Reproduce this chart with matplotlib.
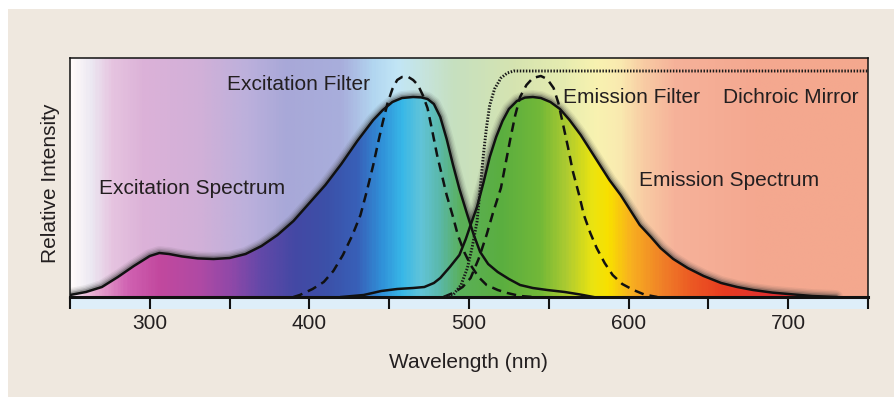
import matplotlib
matplotlib.use("Agg")
import matplotlib.pyplot as plt
import numpy as np
from matplotlib.colors import LinearSegmentedColormap
from matplotlib.patches import Rectangle

plt.rcParams['font.family'] = ['Liberation Sans', 'DejaVu Sans']

# --- data (wavelength nm, relative intensity) ---
ex_spec_nm = [250, 260, 270, 280, 290, 300, 306, 312, 320, 330, 340, 350, 360, 370, 380, 390,
              400, 410, 420, 430, 440, 446, 452, 458, 465, 470, 474, 478, 482, 486, 490, 494,
              499, 503, 507, 512, 518, 525, 532, 540, 549, 560, 570, 578]
ex_spec = [0.01, 0.025, 0.05, 0.10, 0.155, 0.205, 0.22, 0.215, 0.203, 0.193, 0.19, 0.195, 0.215,
           0.255, 0.31, 0.38, 0.47, 0.56, 0.665, 0.78, 0.885, 0.935, 0.975, 0.995, 1.0, 0.998,
           0.99, 0.965, 0.90, 0.79, 0.66, 0.54, 0.41, 0.31, 0.225, 0.165, 0.125, 0.09, 0.06,
           0.045, 0.035, 0.025, 0.012, 0.0]

em_spec_nm = [420, 434, 445, 455, 465, 472, 478, 482, 488, 494, 498, 501, 505, 509, 513, 517,
              521, 525, 530, 535, 540, 545, 551, 557, 563, 570, 576, 582, 588, 595, 601, 607,
              614, 620, 628, 637, 647, 658, 668, 678, 690, 700, 715, 730]
em_spec = [0.0, 0.01, 0.03, 0.04, 0.045, 0.05, 0.07, 0.095, 0.15, 0.21, 0.29, 0.36, 0.45, 0.57,
           0.70, 0.80, 0.88, 0.94, 0.98, 0.997, 1.0, 0.995, 0.975, 0.94, 0.885, 0.81, 0.735,
           0.66, 0.585, 0.51, 0.435, 0.36, 0.30, 0.245, 0.19, 0.145, 0.105, 0.07, 0.05, 0.035,
           0.022, 0.015, 0.005, 0.0]

ex_filt_nm = [390, 394, 402, 409, 415, 421, 427, 432, 436, 440, 443, 446, 449, 452, 455, 458,
              462, 465, 468, 471, 474, 477, 480, 483, 486, 490, 493, 497, 501, 506, 511, 518,
              524, 532, 540]
ex_filt = [0.0, 0.01, 0.04, 0.075, 0.13, 0.21, 0.31, 0.41, 0.53, 0.66, 0.77, 0.875, 0.97, 1.04,
           1.085, 1.10, 1.10, 1.085, 1.06, 1.01, 0.945, 0.83, 0.71, 0.61, 0.51, 0.40, 0.31,
           0.225, 0.16, 0.10, 0.06, 0.035, 0.02, 0.005, 0.0]

em_filt_nm = [484, 490, 496, 501, 506, 511, 515, 520, 523, 526, 529, 532, 536, 540, 545, 549,
              553, 556, 559, 562, 565, 569, 572, 576, 580, 585, 590, 596, 603, 610, 618]
em_filt = [0.0, 0.02, 0.05, 0.095, 0.19, 0.31, 0.42, 0.545, 0.67, 0.795, 0.91, 1.0, 1.06, 1.095,
           1.105, 1.09, 1.045, 0.97, 0.86, 0.75, 0.63, 0.51, 0.41, 0.32, 0.245, 0.17, 0.11,
           0.065, 0.035, 0.012, 0.0]

dichroic_nm = [485, 490, 495, 499, 502, 505, 507, 509, 511, 513, 516, 520, 524, 528, 750]
dichroic = [0.0, 0.01, 0.06, 0.145, 0.25, 0.375, 0.54, 0.71, 0.85, 0.96, 1.04, 1.095, 1.12,
            1.13, 1.13]

tick_pos = [250, 300, 350, 400, 450, 500, 550, 600, 650, 700, 750]
tick_labels = ["", "300", "", "400", "", "500", "", "600", "", "700", ""]

# --- spectrum colours (style) ---
x0, x1, ytop = 250, 750, 1.195
light_stops = [(250, "#fffafa"), (262, "#ece8f2"), (275, "#e6c4e0"), (295, "#dcb2d8"),
               (330, "#d2b0d8"), (360, "#bcb0dc"), (385, "#a8a8d8"), (420, "#a8aedc"),
               (440, "#b2d6f0"), (455, "#c2e6f6"), (470, "#c6e4e0"), (490, "#c6e0c0"),
               (530, "#d6e4b0"), (560, "#e6ecb0"), (580, "#f8f2b0"), (595, "#faeab0"),
               (610, "#f8cca4"), (630, "#f6b29a"), (680, "#f4a890"), (750, "#f4a88e")]
sat_stops = [(250, "#f4e4ee"), (265, "#e8a8d0"), (285, "#d062b2"), (305, "#c2489e"),
             (330, "#b04aa4"), (350, "#9048a8"), (370, "#6048a8"), (390, "#4448a4"),
             (410, "#3c50a8"), (430, "#3860b8"), (445, "#3090d8"), (458, "#38b8e8"),
             (470, "#62c4d8"), (482, "#5ab8a8"), (495, "#5ab058"), (520, "#5aae40"),
             (545, "#72b838"), (562, "#b0cc30"), (578, "#ece410"), (588, "#f8e000"),
             (602, "#f8b020"), (622, "#f08028"), (640, "#ec5a24"), (660, "#e83c20"),
             (690, "#e03030"), (750, "#e04040")]


def make_cmap(stops, name):
    return LinearSegmentedColormap.from_list(
        name, [((w - x0) / (x1 - x0), c) for w, c in stops])


grad = np.linspace(0, 1, 600).reshape(1, -1)

fig = plt.figure(figsize=(8.94, 3.98), dpi=100)
fig.patch.set_facecolor("white")

# beige panel behind everything
bg = fig.add_axes([8 / 894, 1 / 398, 886 / 894, 388 / 398], zorder=-5)
bg.set_facecolor("#efe8df")
bg.set_xticks([])
bg.set_yticks([])
for s in bg.spines.values():
    s.set_visible(False)

ax = fig.add_axes([70 / 894, 101 / 398, 798 / 894, 239 / 398])
ax.imshow(grad, extent=[x0, x1, 0, ytop], aspect="auto",
          cmap=make_cmap(light_stops, "light"), zorder=0, interpolation="bilinear")

# soft grey halo along the spectra
for nm, val in [(ex_spec_nm, ex_spec), (em_spec_nm, em_spec)]:
    for lw, a in [(10, 0.07), (8, 0.1), (6, 0.16), (4, 0.3)]:
        ax.plot(nm, val, color="#3a3a3a", lw=lw, alpha=a, zorder=1,
                solid_capstyle="round", solid_joinstyle="round")

# saturated colours under each spectrum
for nm, val in [(ex_spec_nm, ex_spec), (em_spec_nm, em_spec)]:
    poly = ax.fill_between(nm, 0, val, facecolor="none", edgecolor="none")
    im = ax.imshow(grad, extent=[x0, x1, 0, ytop], aspect="auto",
                   cmap=make_cmap(sat_stops, "sat"), zorder=2, interpolation="bilinear")
    im.set_clip_path(poly.get_paths()[0], transform=ax.transData)

ax.plot(ex_spec_nm, ex_spec, color="#111111", lw=1.8, zorder=4, solid_joinstyle="round")
ax.plot(em_spec_nm, em_spec, color="#111111", lw=1.8, zorder=4, solid_joinstyle="round")
ax.plot(ex_filt_nm, ex_filt, color="#111111", lw=1.8, ls=(0, (3.8, 2.4)), zorder=4)
ax.plot(em_filt_nm, em_filt, color="#111111", lw=1.8, ls=(0, (3.8, 2.4)), zorder=4)
ax.plot(dichroic_nm, dichroic, color="#1a1a1a", lw=2.1, ls=(0, (0.5, 0.55)), zorder=4)

ax.set_xlim(x0, x1)
ax.set_ylim(0, ytop)
ax.set_yticks([])
ax.set_xticks(tick_pos)
ax.set_xticklabels(tick_labels)
ax.tick_params(axis="x", direction="out", length=8.6, width=1.5, pad=3.5,
               labelsize=15, colors="#111111", labelcolor="#231f20")
for s in ax.spines.values():
    s.set_linewidth(1.1)
    s.set_color("#111111")
ax.spines["bottom"].set_linewidth(2.2)
ax.add_patch(Rectangle((0, -12 / 239), 1, 12 / 239, transform=ax.transAxes,
                       clip_on=False, facecolor="#deeef9", edgecolor="none", zorder=0.5))

txt = dict(fontsize=15, color="#231f20", va="baseline", ha="left")


def fy(py):
    return 1 - py / 398


fig.text(227 / 894, fy(90.5), "Excitation Filter", **txt)
fig.text(99 / 894, fy(194), "Excitation Spectrum", **txt)
fig.text(563 / 894, fy(103), "Emission Filter", **txt)
fig.text(723 / 894, fy(103), "Dichroic Mirror", **txt)
fig.text(639 / 894, fy(186), "Emission Spectrum", **txt)
fig.text(468 / 894, fy(368), "Wavelength (nm)", fontsize=15, color="#231f20",
         ha="center", va="baseline")
fig.text(56.5 / 894, fy(183), "Relative Intensity", fontsize=15, color="#231f20",
         ha="center", va="baseline", rotation=90, rotation_mode="anchor")

fig.savefig("out.png", dpi=100)
